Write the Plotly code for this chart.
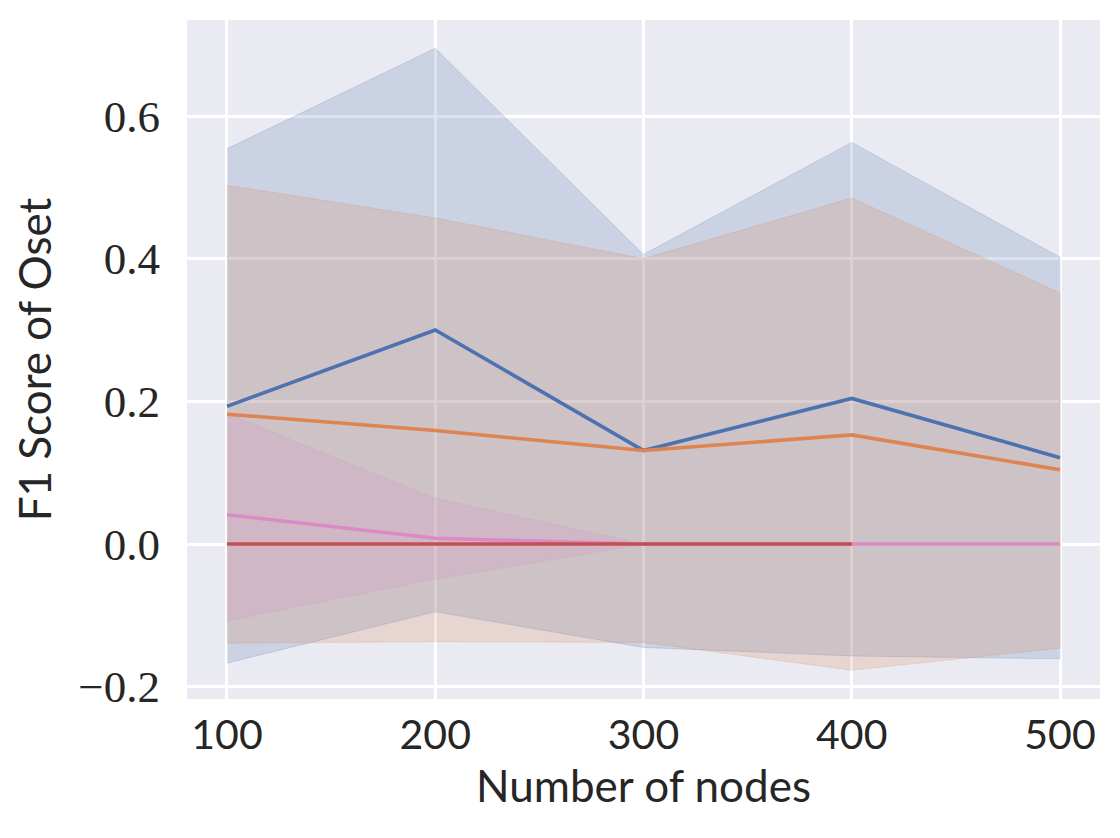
import plotly.graph_objects as go

nodes = [100, 200, 300, 400, 500]

blue_mean = [0.193, 0.300, 0.131, 0.204, 0.121]
blue_upper = [0.554, 0.695, 0.406, 0.563, 0.402]
blue_lower = [-0.167, -0.095, -0.145, -0.157, -0.161]

orange_mean = [0.182, 0.159, 0.131, 0.153, 0.104]
orange_upper = [0.503, 0.457, 0.400, 0.485, 0.352]
orange_lower = [-0.139, -0.137, -0.138, -0.177, -0.146]

pink_mean = [0.041, 0.008, 0.0, 0.0, 0.0]
pink_upper = [0.183, 0.064, 0.0, 0.0, 0.0]
pink_lower = [-0.108, -0.049, 0.0, 0.0, 0.0]

red_mean = [0.0, 0.0, 0.0, 0.0, None]

y_ticks = [-0.2, 0.0, 0.2, 0.4, 0.6]
x_ticks = [100, 200, 300, 400, 500]

BLUE = "#4c72b0"
ORANGE = "#dd8452"
PINK = "#da8bc3"
RED = "#c44e52"


def rgba(hexc, a):
    h = hexc.lstrip("#")
    r, g, b = int(h[0:2], 16), int(h[2:4], 16), int(h[4:6], 16)
    return f"rgba({r},{g},{b},{a})"


fig = go.Figure()

for col, up, lo in [(BLUE, blue_upper, blue_lower),
                    (ORANGE, orange_upper, orange_lower),
                    (PINK, pink_upper, pink_lower)]:
    fig.add_trace(go.Scatter(
        x=nodes + nodes[::-1],
        y=up + lo[::-1],
        fill="toself",
        fillcolor=rgba(col, 0.2),
        line=dict(color=rgba(col, 0.2), width=1),
        mode="lines",
        hoverinfo="skip",
        showlegend=False,
    ))

for col, ys in [(BLUE, blue_mean), (ORANGE, orange_mean),
                (PINK, pink_mean), (RED, red_mean)]:
    fig.add_trace(go.Scatter(
        x=nodes, y=ys, mode="lines",
        line=dict(color=col, width=3.6),
        showlegend=False,
    ))

SANS = "Lato"
SERIF = "Liberation Serif"

# page body has an 8px default margin, so the figure starts at (8, 8)
fig.update_layout(
    width=1112, height=830,
    margin=dict(l=179, r=20, t=12, b=139),
    paper_bgcolor="white",
    plot_bgcolor="#eaeaf2",
    xaxis=dict(
        range=[80.8, 519.2],
        tickvals=x_ticks,
        ticktext=[str(v) for v in x_ticks],
        showgrid=True, gridcolor="white", gridwidth=2.5,
        zeroline=False, showline=False, automargin=False,
        ticks="", ticklabelstandoff=8,
        tickfont=dict(family=SANS, size=41, color="#262626"),
        title=dict(text="Number of nodes", standoff=14,
                   font=dict(family=SANS, size=44, color="#262626")),
    ),
    yaxis=dict(
        range=[-0.2173, 0.7346],
        tickvals=y_ticks,
        ticktext=["\u22120.2", "0.0", "0.2", "0.4", "0.6"],
        showgrid=True, gridcolor="white", gridwidth=2.5,
        zeroline=False, showline=False, automargin=False,
        ticks="", ticklabelstandoff=26,
        tickfont=dict(family=SERIF, size=45, color="#262626"),
        title=dict(text="F1 Score of Oset", standoff=26,
                   font=dict(family=SANS, size=44, color="#262626")),
    ),
)

fig.write_html("out.html")
